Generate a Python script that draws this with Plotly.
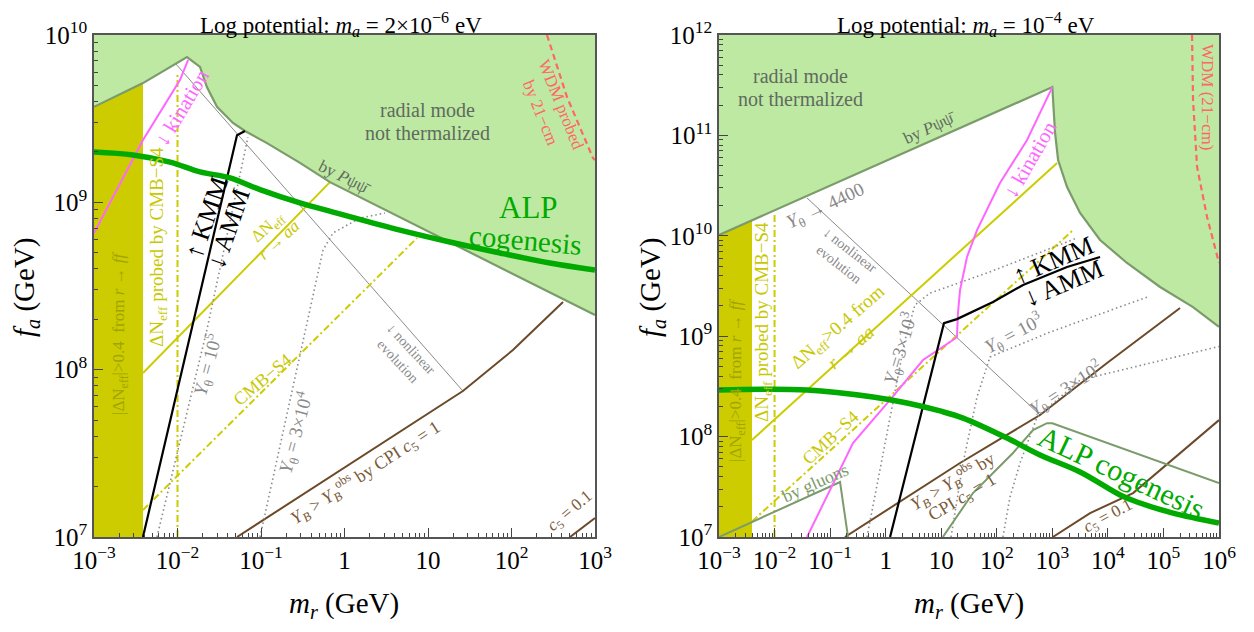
import plotly.graph_objects as go

W, H = 1254, 632          # browser window
OFF = 8                    # default page body margin
FW, FH = W - 2 * OFF, H - 2 * OFF
FONT = "Liberation Serif"

# ---------------- Left panel (m_a = 2e-6 eV) ----------------
L_therm_mr = [1e-3, 3.86e-3, 1.30e-2, 1.86e-2, 2.25e-2, 2.97e-2, 4.62e-2, 6.43e-2, 0.118, 0.293, 0.670, 1e3]
L_therm_fa = [3.72e9, 5.16e9, 7.38e9, 6.44e9, 4.89e9, 3.72e9, 2.98e9, 2.67e9, 2.26e9, 1.72e9, 1.32e9, 2.12e8]
L_band_mr = [1e-3, 3.86e-3]
L_band_top = [3.72e9, 5.16e9]
L_cmbv_mr = [1e-2, 1e-2]
L_cmbv_fa = [1e7, 5.8e9]
L_nonlin_mr = [9.33e-3, 26.2]
L_nonlin_fa = [6.81e9, 7.45e7]
L_cpi1_mr = [5.16e-2, 26.2, 104, 414]
L_cpi1_fa = [1e7, 7.45e7, 1.31e8, 2.54e8]
L_cpi01_mr = [502, 1e3]
L_cpi01_fa = [1e7, 1.30e7]
L_kmm_mr = [3.86e-3, 5.16e-2, 6.43e-2]
L_kmm_fa = [1e7, 2.52e9, 2.67e9]
L_kin_mr = [1e-3, 3.86e-3, 1.07e-2, 1.34e-2]
L_kin_fa = [6.55e8, 2.36e9, 5.38e9, 7.10e9]
L_aa_mr = [3.86e-3, 0.670]
L_aa_fa = [9.55e7, 1.32e9]
L_s4_mr = [3.86e-3, 7.38]
L_s4_fa = [1.45e7, 6.12e8]
L_y1e5_mr = [5.68e-3, 2.25e-2, 6.98e-2]
L_y1e5_fa = [1e7, 1.73e8, 2.45e9]
L_y3e4_mr = [9.73e-2, 0.408, 0.553, 0.728, 1.53, 3.05]
L_y3e4_fa = [1e7, 2.61e8, 5.19e8, 6.56e8, 8.05e8, 8.63e8]
L_alp_mr = [1e-3, 2.93e-3, 8.13e-3, 1.86e-2, 4.26e-2, 9.73e-2, 0.293, 0.728, 4.62, 18.3, 72.8, 289, 1e3]
L_alp_fa = [2.00e9, 1.92e9, 1.74e9, 1.52e9, 1.40e9, 1.19e9, 9.91e8, 8.75e8, 6.82e8, 5.79e8, 4.98e8, 4.34e8, 3.94e8]
L_wdm_mr = [266, 462, 946, 1e3]
L_wdm_fa = [1e10, 4.26e9, 1.84e9, 1.79e9]

# ---------------- Right panel (m_a = 1e-4 eV) ----------------
R_therm_mr = [1e-3, 1e3, 1.07e3, 1.12e3, 1.27e3, 1.84e3, 3.16e3, 7.23e3, 2.21e4, 8.69e4, 3.41e5, 1e6]
R_therm_fa = [1.02e10, 3.03e11, 1.6e11, 1.06e11, 5.69e10, 3.06e10, 1.69e10, 9.08e9, 5.36e9, 3.09e9, 1.95e9, 1.24e9]
R_band_mr = [1e-3, 3.93e-3]
R_band_top = [1.02e10, 1.43e10]
R_cmbv_mr = [1e-2, 1e-2]
R_cmbv_fa = [1e7, 1.7e10]
R_nonlin_mr = [3.84e-2, 601]
R_nonlin_fa = [2.38e10, 1.64e8]
R_cpi1_mr = [0.185, 21.8, 601, 9660, 1.99e5]
R_cpi1_fa = [1e7, 5.46e7, 1.64e8, 5.41e8, 1.91e9]
R_cpi01_mr = [1.02e3, 4.78e3, 2.84e4, 1e6]
R_cpi01_fa = [1e7, 1.73e7, 2.74e7, 1.46e8]
R_kmm_mr = [1.20, 11.2, 19.2, 85.5, 297, 1.84e3, 7.23e3]
R_kmm_fa = [1e7, 1.35e9, 1.48e9, 2.19e9, 3.24e9, 4.89e9, 6.15e9]
R_kin_mr = [3.84e-2, 0.258, 1.20, 4.70, 16.3, 19.2, 20.0, 21.8, 29.1, 44.1, 114, 351, 1e3]
R_kin_fa = [1e7, 8.63e7, 2.32e8, 5.79e8, 9.16e8, 9.82e8, 1.70e9, 2.88e9, 6.15e9, 1.14e10, 3.36e10, 9.0e10, 3.03e11]
R_aa_mr = [3.93e-3, 1.22e3]
R_aa_fa = [9.25e7, 5.31e10]
R_s4_mr = [3.93e-3, 2.36e3]
R_s4_fa = [1.43e7, 1.14e10]
R_gluon_mr = [1e-3, 0.151, 0.210]
R_gluon_fa = [1e7, 3.53e7, 1e7]
R_alpreg_mr = [10.7, 37.3, 196, 449, 802, 1e3, 1e6]
R_alpreg_fa = [1e7, 2.74e7, 6.87e7, 1.16e8, 1.36e8, 1.36e8, 3.45e7]
R_alp_mr = [1e-3, 3.84e-2, 0.592, 2.42, 9.51, 24.7, 153, 601, 3.16e3, 1.66e4, 3.35e4, 1.49e5, 1e6]
R_alp_fa = [2.91e8, 2.91e8, 2.48e8, 2.16e8, 1.80e8, 1.53e8, 9.68e7, 6.56e7, 4.44e7, 2.62e7, 2.23e7, 1.73e7, 1.38e7]
R_y3e3_mr = [0.461, 0.791, 1.36, 2.23, 3.37, 6.28, 66.7, 2.79e3]
R_y3e3_fa = [1e7, 4.65e7, 2.32e8, 9.16e8, 2.05e9, 2.69e9, 4.26e9, 9.51e9]
R_y1e3_mr = [15.0, 24.7, 44.1, 75.5, 910, 6.38e3, 5.07e4]
R_y1e3_fa = [1e7, 5.46e7, 2.48e8, 6.21e8, 1.10e9, 1.63e9, 2.45e9]
R_y3e2_mr = [129, 173, 262, 396, 531, 3.16e3, 1e6]
R_y3e2_fa = [1e7, 2.50e7, 5.46e7, 9.91e7, 1.57e8, 3.66e8, 7.9e8]
R_wdm_mr = [3.27e5, 3.41e5, 4.03e5, 6.10e5, 1e6]
R_wdm_fa = [1e12, 2.26e11, 4.84e10, 1.54e10, 5.36e9]

# axis ranges / ticks (decades)
L_xdec = [-3, 3]
L_ydec = [7, 10]
R_xdec = [-3, 6]
R_ydec = [7, 12]

# ---------------- styles ----------------
FILL_GREEN = "#bee9a2"
EDGE_GREEN = "#7b9b6b"
OLIVE = "#cccc00"
OLIVE_TXT = "#a3a300"
YEL = "#c8c800"
GRAY = "#8a8a8a"
DGRAY = "#5f6b5f"
BROWN = "#6b4a2a"
BROWN_TXT = "#7a5a3a"
MAG = "#ff66ff"
RED = "#ff6666"
GREEN = "#00aa00"

fig = go.Figure()


def line(xs, ys, ax, color, width=2, dash=None, shape="linear"):
    xa, ya = ("x", "y") if ax == 1 else ("x2", "y2")
    fig.add_trace(go.Scatter(x=xs, y=ys, xaxis=xa, yaxis=ya, mode="lines",
                             line=dict(color=color, width=width, dash=dash, shape=shape),
                             hoverinfo="skip", showlegend=False))


def poly(xs, ys, ax, fillcolor):
    xa, ya = ("x", "y") if ax == 1 else ("x2", "y2")
    fig.add_trace(go.Scatter(x=xs, y=ys, xaxis=xa, yaxis=ya, mode="lines", fill="toself",
                             fillcolor=fillcolor, line=dict(width=0, color=fillcolor),
                             hoverinfo="skip", showlegend=False))


DOT = "1.5px,3px"
DASHDOT = "7px,3px,2px,3px"

for ax, P in ((1, "L"), (2, "R")):
    g = globals()
    xd = L_xdec if ax == 1 else R_xdec
    ydc = L_ydec if ax == 1 else R_ydec
    xmin, xmax = 10 ** xd[0], 10 ** xd[1]
    ymin, ymax = 10 ** ydc[0], 10 ** ydc[1]
    bx, bt = g[P + "_band_mr"], g[P + "_band_top"]
    poly([bx[0], bx[1], bx[1], bx[0]], [ymin, ymin, bt[1], bt[0]], ax, OLIVE)
    tx, ty = g[P + "_therm_mr"], g[P + "_therm_fa"]
    poly(tx + [xmax, xmin], ty + [ymax * 1.5, ymax * 1.5], ax, FILL_GREEN)
    line(g[P + "_nonlin_mr"], g[P + "_nonlin_fa"], ax, GRAY, 1)
    line(g[P + "_cmbv_mr"], g[P + "_cmbv_fa"], ax, OLIVE, 2, DASHDOT)
    line(g[P + "_s4_mr"], g[P + "_s4_fa"], ax, OLIVE, 2, DASHDOT)
    line(g[P + "_aa_mr"], g[P + "_aa_fa"], ax, OLIVE, 2)
    line(g[P + "_cpi1_mr"], g[P + "_cpi1_fa"], ax, BROWN, 2)
    line(g[P + "_cpi01_mr"], g[P + "_cpi01_fa"], ax, BROWN, 2)
    line(tx, ty, ax, EDGE_GREEN, 2.2)
    line(g[P + "_wdm_mr"], g[P + "_wdm_fa"], ax, RED, 2.2, "6px,4px")

# dotted Y_theta curves
line(L_y1e5_mr, L_y1e5_fa, 1, GRAY, 1.6, DOT)
line(L_y3e4_mr, L_y3e4_fa, 1, GRAY, 1.6, DOT)
line(R_y3e3_mr, R_y3e3_fa, 2, GRAY, 1.6, DOT)
line(R_y1e3_mr, R_y1e3_fa, 2, GRAY, 1.6, DOT)
line(R_y3e2_mr, R_y3e2_fa, 2, GRAY, 1.6, DOT)
# gluon / CPI region outlines (right)
line(R_gluon_mr, R_gluon_fa, 2, EDGE_GREEN, 2)
line(R_alpreg_mr, R_alpreg_fa, 2, EDGE_GREEN, 2)
# kination, KMM/AMM
line(L_kin_mr, L_kin_fa, 1, MAG, 2)
line(R_kin_mr, R_kin_fa, 2, MAG, 2)
line(L_kmm_mr, L_kmm_fa, 1, "black", 2.2)
line(R_kmm_mr, R_kmm_fa, 2, "black", 2.2)
# ALP cogenesis
line(L_alp_mr, L_alp_fa, 1, GREEN, 5.5, shape="spline")
line(R_alp_mr, R_alp_fa, 2, GREEN, 5.5, shape="spline")


def ticks(dec, minor=False):
    vals = []
    for d in range(dec[0], dec[1] + 1):
        if minor:
            if d < dec[1]:
                vals += [k * 10 ** d for k in range(2, 10)]
        else:
            vals.append(10 ** d)
    return vals


def ticktext(dec, plain=True):
    out = []
    for d in range(dec[0], dec[1] + 1):
        if plain and d == 0:
            out.append("1")
        elif plain and d == 1:
            out.append("10")
        else:
            out.append("10<sup>%s</sup>" % (str(d).replace("-", "−")))
    return out


def axis(dom, dec, anchor, xaxis=True):
    return dict(type="log", domain=dom, range=list(dec), anchor=anchor,
                tickmode="array", tickvals=ticks(dec), ticktext=ticktext(dec, xaxis),
                ticks="inside", ticklen=9, tickwidth=1.2, tickcolor="#444",
                minor=dict(tickmode="array", tickvals=ticks(dec, True), ticks="inside",
                           ticklen=4.5, tickwidth=1, tickcolor="#444"),
                showline=True, linecolor="#555", linewidth=1.5, mirror=True,
                showgrid=False, zeroline=False, automargin=False,
                tickfont=dict(family=FONT, size=25, color="black"))


def px_x(px):
    return (px - OFF) / FW


def px_y(py):
    return 1 - (py - OFF) / FH


x1 = (px_x(94), px_x(595))
x2 = (px_x(719), px_x(1219))
yd = (px_y(537), px_y(35))

layout = dict(width=FW, height=FH, margin=dict(l=0, r=0, t=0, b=0, pad=0, autoexpand=False),
              paper_bgcolor="white", plot_bgcolor="white", showlegend=False,
              font=dict(family=FONT),
              xaxis=axis(x1, L_xdec, "y", True), yaxis=axis(yd, L_ydec, "x", False),
              xaxis2=axis(x2, R_xdec, "y2", True), yaxis2=axis(yd, R_ydec, "x2", False))
fig.update_layout(**layout)

anns = []


def A(px, py, text, size, color, angle=0):
    anns.append(dict(x=px_x(px), y=px_y(py), xref="paper", yref="paper", text=text,
                     showarrow=False, xanchor="center", yanchor="middle", textangle=angle,
                     font=dict(family=FONT, size=size, color=color)))


Yth = "<i>Y</i><sub>θ</sub>"
YB = "<i>Y</i><sub><i>B</i></sub> > <i>Y</i><sub><i>B</i></sub><sup>obs</sup>"
DN = "ΔN<sub>eff</sub>"
PSI = "by <i>P</i>ψψ̄"

# titles and axis labels
A(341, 24, "Log potential: <i>m</i><sub><i>a</i></sub> = 2×10<sup>−6</sup> eV", 23, "black")
A(966, 24, "Log potential: <i>m</i><sub><i>a</i></sub> = 10<sup>−4</sup> eV", 23, "black")
A(344, 605, "<i>m</i><sub><i>r</i></sub> (GeV)", 29, "black")
A(969, 605, "<i>m</i><sub><i>r</i></sub> (GeV)", 29, "black")
A(26, 287, "<i>f</i><sub><i>a</i></sub> (GeV)", 29, "black", -90)
A(652, 287, "<i>f</i><sub><i>a</i></sub> (GeV)", 29, "black", -90)

# left panel labels
A(120, 333, "|" + DN + "|>0.4  from <i>r</i> → <i>ff</i>", 17, OLIVE_TXT, -90)
A(158, 247, DN + " probed by CMB−S4", 19, YEL, -90)
A(182, 108, "↓ kination", 21, MAG, -59)
A(207, 218, "↑ KMM", 26, "black", -71)
A(228, 229, "↓ AMM", 26, "black", -71)
A(268, 228, DN, 17, YEL, -42)
A(278, 240, "<i>r</i> → <i>aa</i>", 17, YEL, -42)
A(262, 380, "CMB−S4", 18, YEL, -40)
A(207, 365, Yth + " = 10<sup>5</sup>", 19, GRAY, -75)
A(295, 433, Yth + " = 3×10<sup>4</sup>", 19, GRAY, -75)
A(405, 355, "↓ nonlinear<br>evolution", 14, GRAY, 47)
A(365, 472, YB + " by CPI <i>c</i><sub>5</sub> = 1", 18, BROWN_TXT, -33)
A(570, 512, "<i>c</i><sub>5</sub> = 0.1", 17, BROWN_TXT, -40)
A(551, 108, "WDM probed<br>by 21−cm", 17, RED, 68)
A(427, 110, "radial mode", 20, DGRAY)
A(427, 133, "not thermalized", 20, DGRAY)
A(345, 177, PSI, 17, DGRAY, 27)
A(528, 207, "ALP", 31, GREEN)
A(525, 240, "cogenesis", 29, GREEN, 5)

# right panel labels
A(737, 380, "|" + DN + "|>0.4  from <i>r</i> → <i>ff</i>", 17, OLIVE_TXT, -90)
A(763, 322, DN + " probed by CMB−S4", 19, YEL, -90)
A(825, 207, Yth + " → 4400", 19, GRAY, -25)
A(845, 257, "↓ nonlinear<br>evolution", 14, GRAY, 38)
A(838, 328, DN + ">0.4 from", 19, YEL, -41)
A(850, 347, "<i>r</i> → <i>aa</i>", 19, YEL, -41)
A(830, 438, "CMB−S4", 18, YEL, -43)
A(815, 483, "by gluons", 18, EDGE_GREEN, -24)
A(900, 348, Yth + "=3×10<sup>3</sup>", 19, GRAY, -73)
A(1053, 260, "↑ KMM", 26, "black", -23)
A(1063, 283, "↓ AMM", 26, "black", -23)
A(1030, 160, "↓ kination", 21, MAG, -60)
A(1013, 333, Yth + " = 10<sup>3</sup>", 19, GRAY, -28)
A(1065, 388, Yth + " = 3×10<sup>2</sup>", 19, GRAY, -33)
A(952, 481, YB + " by", 18, BROWN_TXT, -31)
A(962, 498, "CPI <i>c</i><sub>5</sub> = 1", 18, BROWN_TXT, -31)
A(1108, 517, "<i>c</i><sub>5</sub> = 0.1", 17, BROWN_TXT, -28)
A(1122, 472, "ALP cogenesis", 30, GREEN, 25)
A(1207, 97, "WDM (21−cm)", 17, RED, 90)
A(800, 76, "radial mode", 20, DGRAY)
A(800, 99, "not thermalized", 20, DGRAY)
A(930, 128, PSI, 17, DGRAY, -25)

fig.update_layout(annotations=anns)
fig.write_html("out.html")
